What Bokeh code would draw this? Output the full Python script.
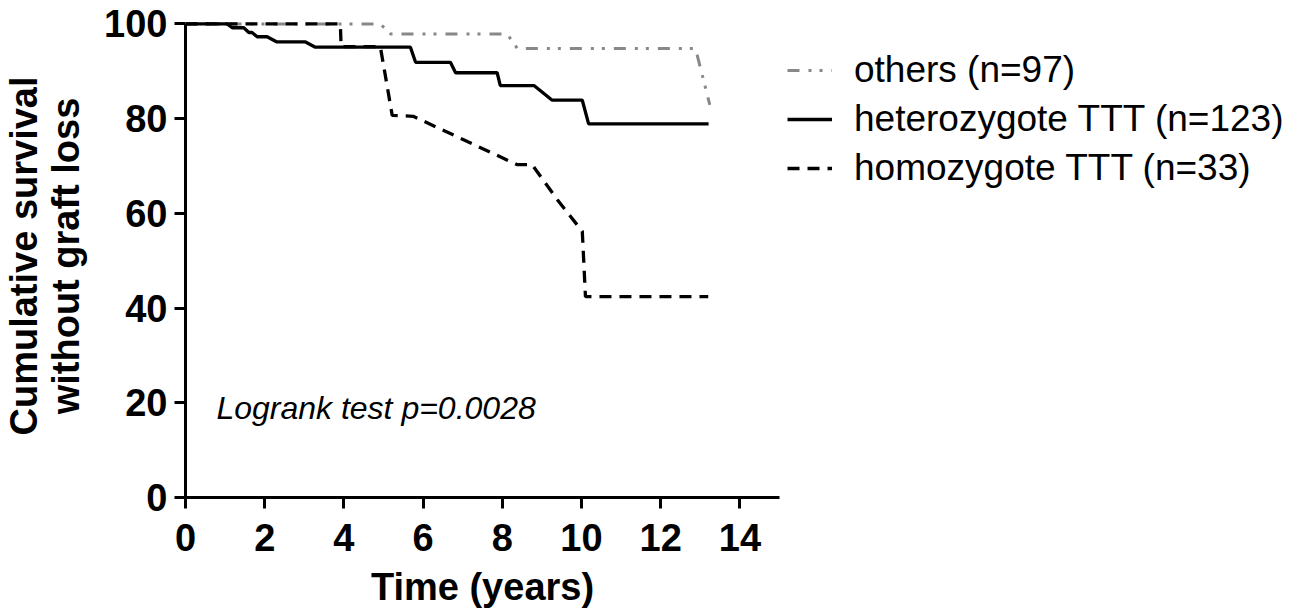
from bokeh.plotting import figure
from bokeh.models import Range1d, Legend, LegendItem, Label, FixedTicker
from bokeh.embed import file_html
from bokeh.resources import INLINE

# survival curves (time in years, % surviving without graft loss)
others_t = [0, 4.92, 5.18, 8.12, 8.38, 12.88, 13.24]
others_s = [100, 100, 97.9, 97.9, 94.8, 94.8, 82.9]

hetero_t = [0, 1.05, 1.18, 1.47, 1.6, 1.68, 1.81, 2.06, 2.31, 3.03, 3.28,
            5.68, 5.81, 6.69, 6.82, 7.87, 7.95, 8.8, 9.26, 10.02, 10.18, 13.21]
hetero_s = [100, 100, 99.2, 99.2, 98.2, 98.2, 97.3, 97.3, 96.2, 96.2, 95.1,
            95.1, 91.9, 91.9, 89.7, 89.7, 87.0, 87.0, 83.9, 83.9, 78.9, 78.9]

homo_t = [0, 3.91, 3.93, 4.92, 5.22, 5.75, 8.37, 8.75, 9.39, 10.02, 10.1, 13.2]
homo_s = [100, 100, 95.2, 95.2, 80.7, 80.5, 70.3, 70.3, 62.9, 56.2, 42.4, 42.4]

labels = ["others (n=97)", "heterozygote TTT (n=123)", "homozygote TTT (n=33)"]
x_ticks = [0, 2, 4, 6, 8, 10, 12, 14]
y_ticks = [0, 20, 40, 60, 80, 100]

FONT = "Liberation Sans"

p = figure(frame_width=594, frame_height=483,
           x_range=Range1d(0, 15), y_range=Range1d(0, 102),
           output_backend="svg", toolbar_location=None,
           min_border_left=177, min_border_top=14,
           min_border_right=515, min_border_bottom=100)
p.outline_line_color = None
p.xgrid.visible = False
p.ygrid.visible = False

r1 = p.line(others_t, others_s, line_color="#888888", line_width=3,
            line_dash="12 9 3 8 3 9")
r2 = p.line(hetero_t, hetero_s, line_color="black", line_width=3.3)
r3 = p.line(homo_t, homo_s, line_color="black", line_width=3.3,
            line_dash="12 8")

for ax in (p.xaxis[0], p.yaxis[0]):
    ax.axis_line_width = 3
    ax.axis_line_color = "black"
    ax.major_tick_line_width = 3
    ax.major_tick_line_color = "black"
    ax.major_tick_out = 11
    ax.major_tick_in = 0
    ax.minor_tick_line_color = None
    ax.major_label_text_font = FONT
    ax.major_label_text_font_style = "bold"
    ax.major_label_text_font_size = "38px"
    ax.major_label_text_color = "black"
    ax.axis_label_text_font = FONT
    ax.axis_label_text_font_style = "bold"
    ax.axis_label_text_font_size = "38px"
    ax.axis_label_text_color = "black"

p.xaxis.ticker = FixedTicker(ticks=x_ticks)
p.yaxis.ticker = FixedTicker(ticks=y_ticks)
p.xaxis.bounds = (0, 15)
p.yaxis.bounds = (0, 100)
p.xaxis.axis_label = "Time (years)"
p.yaxis.axis_label = "Cumulative survival\nwithout graft loss"
p.yaxis.axis_label_text_line_height = 1.0
p.xaxis.major_label_standoff = 15
p.yaxis.major_label_standoff = 7
p.xaxis.axis_label_standoff = 12
p.yaxis.axis_label_standoff = 14

legend = Legend(items=[LegendItem(label=labels[0], renderers=[r1]),
                       LegendItem(label=labels[1], renderers=[r2]),
                       LegendItem(label=labels[2], renderers=[r3])],
                location=(8, 308), margin=0, padding=0, spacing=7,
                glyph_width=45, glyph_height=40, label_height=40,
                label_standoff=22, border_line_color=None,
                background_fill_alpha=0,
                label_text_font=FONT, label_text_font_size="37px",
                label_text_color="black")
p.add_layout(legend, "right")

note = Label(x=0.78, y=18.8, text="Logrank test p=0.0028",
             text_font=FONT, text_font_style="italic",
             text_font_size="32px", text_baseline="alphabetic",
             text_color="black")
p.add_layout(note)

open("out.html", "w").write(file_html(p, INLINE))
